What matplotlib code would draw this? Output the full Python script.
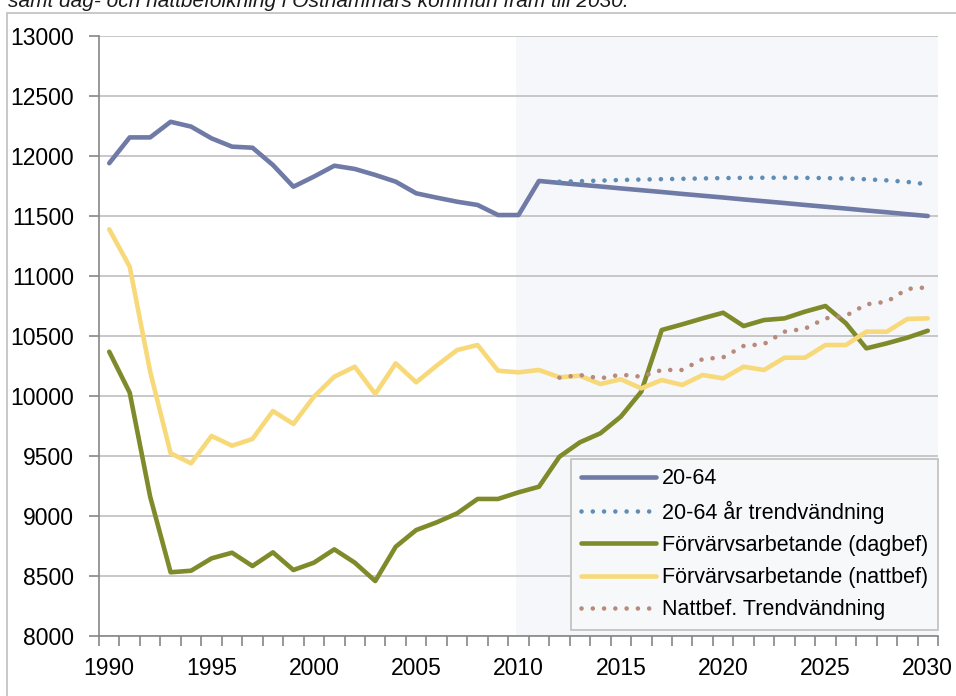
import matplotlib.pyplot as plt
from matplotlib.patches import Rectangle

plt.rcParams['font.family'] = ['Liberation Sans', 'DejaVu Sans']

years = list(range(1990, 2031))
trend_years = list(range(2012, 2031))

pop_20_64 = [11940, 12155, 12155, 12285, 12245, 12147, 12078, 12069, 11925, 11744,
             11828, 11919, 11892, 11842, 11786, 11689, 11653, 11619, 11592, 11508,
             11508, 11792, 11776, 11761, 11746, 11730, 11715, 11700, 11684, 11669,
             11654, 11638, 11623, 11608, 11592, 11577, 11562, 11546, 11531, 11515,
             11500]
pop_20_64_trend = [11786, 11790, 11795, 11800, 11804, 11807, 11810, 11813, 11816, 11818,
                   11819, 11819, 11818, 11816, 11812, 11806, 11797, 11784, 11764]
day_workers = [10369, 10028, 9161, 8531, 8544, 8647, 8694, 8583, 8697, 8550,
               8611, 8722, 8611, 8458, 8744, 8883, 8947, 9022, 9142, 9142,
               9197, 9244, 9494, 9614, 9689, 9828, 10036, 10550, 10597, 10647,
               10694, 10583, 10633, 10647, 10703, 10750, 10606, 10397, 10439, 10486,
               10544]
night_workers = [11389, 11078, 10203, 9523, 9439, 9667, 9586, 9642, 9875, 9767,
                 9994, 10161, 10244, 10017, 10272, 10114, 10253, 10383, 10425, 10211,
                 10197, 10217, 10156, 10169, 10100, 10139, 10064, 10133, 10092, 10175,
                 10147, 10244, 10217, 10319, 10319, 10425, 10425, 10536, 10536, 10642,
                 10647]
night_trend = [10153, 10175, 10147, 10178, 10161, 10217, 10217, 10308, 10322, 10417,
               10433, 10536, 10561, 10647, 10669, 10764, 10786, 10892, 10906]

fig = plt.figure(figsize=(9.56, 6.96), dpi=100)
ax = fig.add_axes([99 / 956, 1 - 636 / 696, 839 / 956, 600 / 696])

# outer chart frame (partly outside the picture)
fig.patches.append(Rectangle((7 / 956, -0.1), 1.2, 1 - 13 / 696 + 0.1, transform=fig.transFigure,
                             fill=False, edgecolor='#bfbfbf', linewidth=1.2))
fig.text(8 / 956, 1 - 7 / 696, 'samt dag- och nattbefolkning i Östhammars kommun fram till 2030.',
         fontsize=15, style='italic', va='baseline', ha='left', color='#1a1a1a')

ax.axvspan(2009.9, 2030.5, color='#f5f7fa', zorder=0, linewidth=0)

lw = 3.3
dots = (0, (0.01, 2.45))
ax.plot(years, pop_20_64, color='#6f7ba6', lw=lw, label='20-64', solid_capstyle='round', zorder=3)
ax.plot(trend_years, pop_20_64_trend, color='#5f8db5', lw=lw, ls=dots, dash_capstyle='round',
        label='20-64 år trendvändning', zorder=3)
ax.plot(years, day_workers, color='#7f8a2a', lw=lw, label='Förvärvsarbetande (dagbef)',
        solid_capstyle='round', zorder=3)
ax.plot(years, night_workers, color='#f8d97a', lw=lw, label='Förvärvsarbetande (nattbef)',
        solid_capstyle='round', zorder=3)
ax.plot(trend_years, night_trend, color='#b88a7b', lw=lw, ls=dots, dash_capstyle='round',
        label='Nattbef. Trendvändning', zorder=3)

ax.set_xlim(1989.5, 2030.5)
ax.set_ylim(8000, 13000)
ax.set_yticks(range(8000, 13001, 500))
ax.set_xticks(range(1990, 2031, 5))
ax.set_xticks([y + 0.5 for y in range(1989, 2031)], minor=True)
ax.tick_params(axis='x', which='major', length=0, pad=15, labelsize=16.5)
ax.tick_params(axis='x', which='minor', length=7, color='#868686', width=1.2)
ax.tick_params(axis='y', length=7, color='#868686', width=1.2, labelsize=16.5, pad=11)
ax.grid(axis='y', color='#bfbfbf', linewidth=1.2, zorder=1)
ax.set_axisbelow(True)
for s in ['top', 'right']:
    ax.spines[s].set_visible(False)
for s in ['left', 'bottom']:
    ax.spines[s].set_color('#868686')
    ax.spines[s].set_linewidth(1.2)
    ax.spines[s].set_zorder(4)
ax.patch.set_alpha(0)

leg = ax.legend(loc='lower right', bbox_to_anchor=(1.0, 0.01), borderaxespad=0, fontsize=15.5,
                handlelength=3.5, handletextpad=0.28, labelspacing=0.52, fancybox=False,
                edgecolor='#bfbfbf', facecolor='#f7f8fa', framealpha=1, borderpad=0.45)
leg.get_frame().set_linewidth(1.2)

fig.savefig('out.png', dpi=100)
